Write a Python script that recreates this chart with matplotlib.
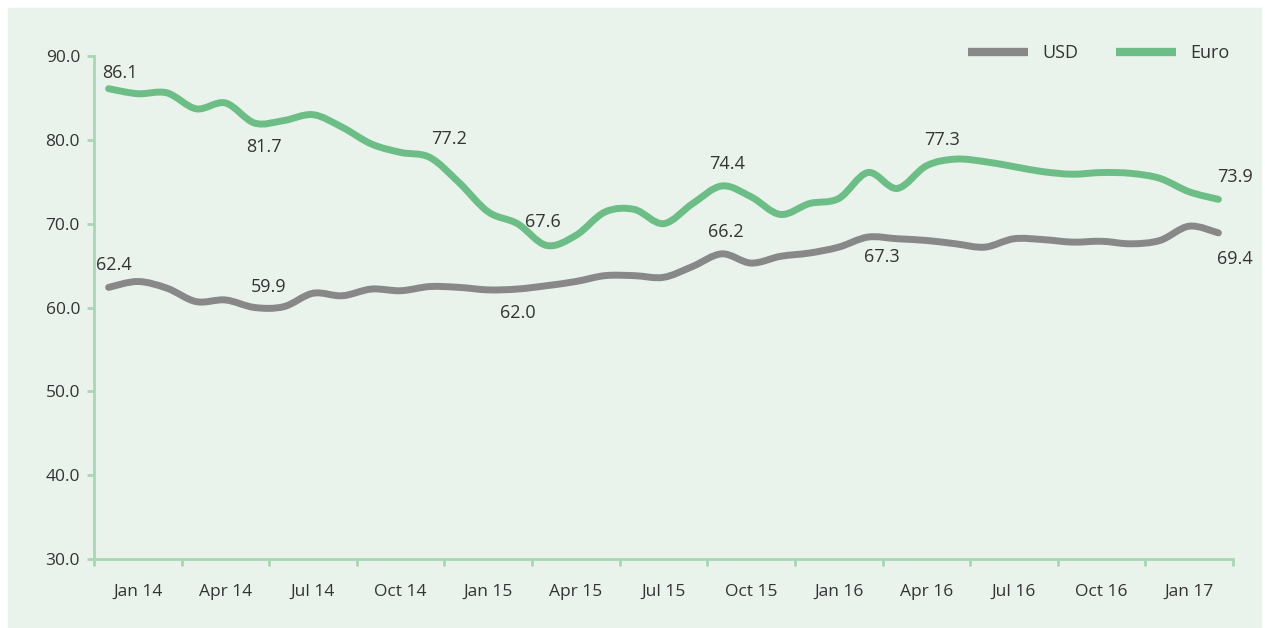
import matplotlib
matplotlib.use("Agg")
import matplotlib.pyplot as plt
from matplotlib.path import Path
from matplotlib.patches import PathPatch, Rectangle
from matplotlib.lines import Line2D
import numpy as np

# monthly values, Jan 14 .. Mar 17
months = [f"{m} {y}" for y in ("14", "15", "16", "17")
          for m in ("Jan", "Feb", "Mar", "Apr", "May", "Jun",
                    "Jul", "Aug", "Sep", "Oct", "Nov", "Dec")][:39]

euro = [86.1, 85.5, 85.6, 83.7, 84.4, 82.0, 82.3, 83.0, 81.5, 79.5,
        78.5, 77.9, 74.9, 71.4, 70.0, 67.4, 68.6, 71.4, 71.7, 70.0,
        72.4, 74.5, 73.2, 71.1, 72.4, 73.0, 76.1, 74.2, 76.9, 77.7,
        77.4, 76.8, 76.2, 75.9, 76.1, 76.0, 75.4, 73.8, 72.9]

usd = [62.4, 63.1, 62.3, 60.7, 60.9, 60.0, 60.1, 61.7, 61.4, 62.2,
       62.0, 62.5, 62.4, 62.1, 62.2, 62.6, 63.1, 63.8, 63.8, 63.6,
       64.9, 66.4, 65.3, 66.1, 66.5, 67.2, 68.4, 68.2, 68.0, 67.6,
       67.2, 68.2, 68.1, 67.8, 67.9, 67.6, 68.0, 69.7, 68.9]

# value labels: (month index, text, offset in points)
euro_labels = [(0, "86.1", (8, 11)), (5, "81.7", (7, -17)), (11, "77.2", (14, 13)),
               (15, "67.6", (-3, 17)), (21, "74.4", (4, 16)), (29, "77.3", (-10, 14)),
               (38, "73.9", (12, 16))]
usd_labels = [(0, "62.4", (4, 16)), (5, "59.9", (10, 15)), (14, "62.0", (0, -17)),
              (21, "66.2", (3, 16)), (26, "67.3", (10, -14)), (38, "69.4", (12, -19))]

GREEN = "#6dbe86"
GREY = "#888888"
AXIS = "#a9d7b3"
BG = "#e9f3eb"
TXT = "#333333"

plt.rcParams["font.family"] = ["Open Sans", "DejaVu Sans"]

fig = plt.figure(figsize=(12.65, 6.28), dpi=100)
fig.patches.append(Rectangle((8 / 1265, 0), 1253 / 1265, 620 / 628,
                             transform=fig.transFigure, color=BG, zorder=-5))
ax = fig.add_axes([94 / 1265, 1 - 559 / 628, 1139 / 1265, 503 / 628])
ax.set_facecolor("none")


def smooth(xs, ys):
    # catmull-rom style curve through every point
    n = len(xs)
    verts = [(xs[0], ys[0])]
    codes = [Path.MOVETO]
    for i in range(n - 1):
        a = max(i - 1, 0)
        d = min(i + 2, n - 1)
        c1 = (xs[i] + (xs[i + 1] - xs[a]) / 6, ys[i] + (ys[i + 1] - ys[a]) / 6)
        c2 = (xs[i + 1] - (xs[d] - xs[i]) / 6, ys[i + 1] - (ys[d] - ys[i]) / 6)
        verts += [c1, c2, (xs[i + 1], ys[i + 1])]
        codes += [Path.CURVE4] * 3
    return Path(verts, codes)


x = np.arange(len(months))
for vals, col in ((usd, GREY), (euro, GREEN)):
    ax.add_patch(PathPatch(smooth(x, vals), fill=False, edgecolor=col, lw=5,
                           capstyle="round", joinstyle="round"))

for vals, labels in ((euro, euro_labels), (usd, usd_labels)):
    for i, txt, off in labels:
        ax.annotate(txt, (i, vals[i]), xytext=off, textcoords="offset points",
                    ha="center", va="center", fontsize=13, color=TXT)

ax.set_xlim(-0.5, len(months) - 0.5)
ax.set_ylim(30, 90)
ax.set_yticks(np.arange(30, 91, 10))
ax.set_yticklabels([f"{v:.1f}" for v in range(30, 91, 10)])
ax.set_xticks(np.arange(-0.5, len(months), 3))
ax.set_xticklabels([])
ax.set_xticks(np.arange(1, len(months), 3), minor=True)
ax.set_xticklabels(months[::3], minor=True)

for s in ("top", "right"):
    ax.spines[s].set_visible(False)
for s in ("left", "bottom"):
    ax.spines[s].set_color(AXIS)
    ax.spines[s].set_linewidth(2)
ax.tick_params(axis="both", which="major", color=AXIS, width=2, length=5,
               labelsize=12.5, labelcolor=TXT)
ax.tick_params(axis="y", pad=5)
ax.tick_params(axis="x", which="minor", length=0, pad=18, labelsize=12.5, labelcolor=TXT)

handles = [Line2D([], [], color=GREY, lw=6, solid_capstyle="butt"),
           Line2D([], [], color=GREEN, lw=6, solid_capstyle="butt")]
ax.legend(handles, ["USD", "Euro"], ncol=2, frameon=False, fontsize=13,
          handlelength=3.3, columnspacing=2.1, handletextpad=0.8,
          loc="upper right", bbox_to_anchor=(1.011, 1.056), labelcolor=TXT)

fig.savefig("out.png", dpi=100)
